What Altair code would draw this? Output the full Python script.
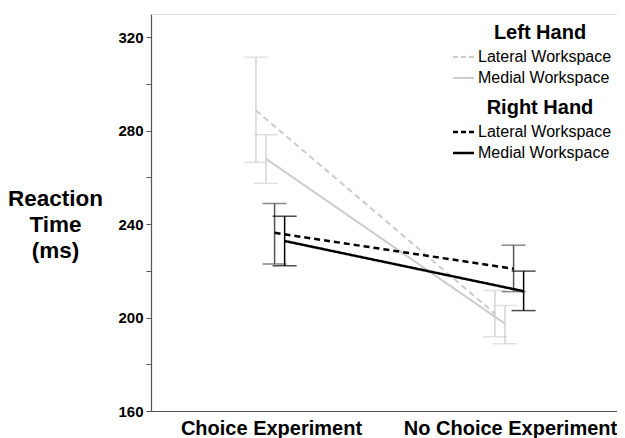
import altair as alt
import pandas as pd

# ---- data ----
conditions = ["Choice Experiment", "No Choice Experiment"]
series = ["Left Lateral", "Left Medial", "Right Lateral", "Right Medial"]
means = {
    "Left Lateral":  [288.7, 201.7],
    "Left Medial":   [268.0, 197.4],
    "Right Lateral": [236.3, 220.9],
    "Right Medial":  [232.8, 211.3],
}
lower = {
    "Left Lateral":  [266.5, 191.8],
    "Left Medial":   [257.5, 188.8],
    "Right Lateral": [223.0, 211.1],
    "Right Medial":  [222.2, 203.0],
}
upper = {
    "Left Lateral":  [311.5, 211.6],
    "Left Medial":   [278.3, 205.2],
    "Right Lateral": [248.9, 231.0],
    "Right Medial":  [243.4, 219.9],
}
y_ticks = [160, 180, 200, 220, 240, 260, 280, 300, 320]
legend_groups = ["Left Hand", "Right Hand"]
legend_items = ["Lateral Workspace", "Medial Workspace"]

# ---- styles ----
dodge = {"Left Lateral": -0.063, "Left Medial": -0.021,
         "Right Lateral": 0.015, "Right Medial": 0.057}
colors = {"Left Lateral": "#cccccc", "Left Medial": "#cccccc",
          "Right Lateral": "#000000", "Right Medial": "#000000"}
bar_colors = {"Left Lateral": "#d4d4d4", "Left Medial": "#d4d4d4",
              "Right Lateral": "#555555", "Right Medial": "#000000"}
dashes = {"Left Lateral": [6, 4], "Left Medial": [1, 0],
          "Right Lateral": [6, 4], "Right Medial": [1, 0]}
widths = {"Left Lateral": 2, "Left Medial": 2,
          "Right Lateral": 2.5, "Right Medial": 2.5}
FONT = "Liberation Sans"

rows = []
for s in series:
    for i, c in enumerate(conditions):
        rows.append({"series": s, "cond": c, "pos": i + 1 + dodge[s],
                     "mean": means[s][i], "lo": lower[s][i], "hi": upper[s][i]})
df = pd.DataFrame(rows)

W, H = 466, 397
xscale = alt.Scale(domain=[1 - 120 / 239, 1 + (W - 120) / 239], nice=False, zero=False)
yscale = alt.Scale(domain=[160, 330], nice=False, zero=False)

x_axis = alt.Axis(values=[1, 2], labelExpr="datum.value == 1 ? 'Choice Experiment' : 'No Choice Experiment'",
                  ticks=False, grid=False, labelFont=FONT, labelFontSize=20, labelFontWeight="bold",
                  labelPadding=7, labelColor="#000", domainColor="#555", domainWidth=1.2, title=None,
                  labelOverlap=False, labelFlush=False, labelLimit=0)
y_axis = alt.Axis(values=y_ticks, labelExpr="datum.value % 40 == 0 ? datum.value : ''",
                  grid=False, tickSize=5, tickColor="#555", domainColor="#555", domainWidth=1.2,
                  labelFont=FONT, labelFontSize=15, labelFontWeight="bold", labelColor="#000",
                  labelPadding=3,
                  title=["Reaction", "Time", "(ms)"], titleAngle=0, titleAlign="center",
                  titleBaseline="alphabetic", titleX=-96, titleY=191, titleLineHeight=26,
                  titleFont=FONT, titleFontSize=22.5, titleFontWeight="bold", titleColor="#000")

X = lambda f: alt.X(f, scale=xscale, axis=x_axis)
Y = lambda f: alt.Y(f, scale=yscale, axis=y_axis)

layers = []
for s in series:
    d = df[df.series == s]
    base = alt.Chart(d)
    rule = base.mark_rule(color=bar_colors[s], strokeWidth=1.5).encode(
        x=X("pos:Q"), y=Y("lo:Q"), y2="hi:Q")
    cap_lo = base.mark_tick(orient="horizontal", size=24, thickness=1.5, color=bar_colors[s]).encode(
        x=X("pos:Q"), y=Y("lo:Q"))
    cap_hi = base.mark_tick(orient="horizontal", size=24, thickness=1.5, color=bar_colors[s]).encode(
        x=X("pos:Q"), y=Y("hi:Q"))
    line = base.mark_line(color=colors[s], strokeWidth=widths[s], strokeDash=dashes[s]).encode(
        x=X("pos:Q"), y=Y("mean:Q"))
    layers += [rule, cap_lo, cap_hi, line]

# ---- legend (drawn as marks) ----
leg_y = {"Left Hand": 19, "Right Hand": 94}
item_dy = [24, 45]
leg_series = {"Left Hand": ["Left Lateral", "Left Medial"],
              "Right Hand": ["Right Lateral", "Right Medial"]}
one = pd.DataFrame({"k": [0]})
for g in legend_groups:
    gy = leg_y[g]
    layers.append(alt.Chart(one).mark_text(text=g, font=FONT, fontSize=20, fontWeight="bold",
                                           align="center", baseline="middle", color="#000").encode(
        x=alt.value(389), y=alt.value(gy)))
    for j, item in enumerate(legend_items):
        s = leg_series[g][j]
        yy = gy + item_dy[j]
        layers.append(alt.Chart(one).mark_rule(color=colors[s], strokeWidth=widths[s],
                                               strokeDash=[5, 3] if j == 0 else [1, 0]).encode(
            x=alt.value(302), x2=alt.value(323), y=alt.value(yy)))
        layers.append(alt.Chart(one).mark_text(text=item, font=FONT, fontSize=16, align="left",
                                               baseline="middle", color="#000").encode(
            x=alt.value(327), y=alt.value(yy)))

chart = alt.layer(*layers).properties(
    width=W, height=H,
    autosize=alt.AutoSizeParams(type="none"),
    padding={"left": 143, "top": 6, "right": 0, "bottom": 32},
).configure_view(strokeWidth=0).configure(background="white")

chart.save("out.html", embed_options={"renderer": "svg", "actions": False})
